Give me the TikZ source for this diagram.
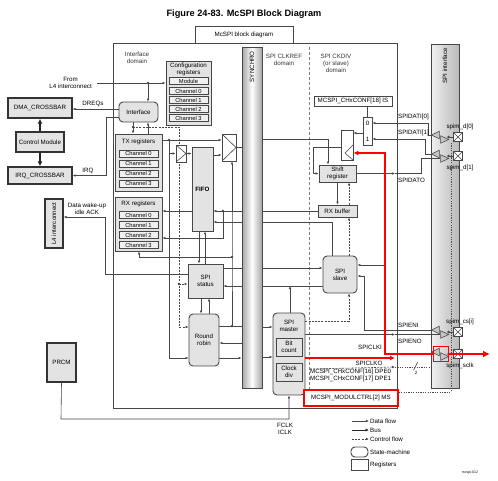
\documentclass[tikz,border=0pt]{standalone}
\usepackage{fontspec}
\setmainfont{Liberation Sans}
\usetikzlibrary{arrows.meta,shapes.geometric}

\definecolor{linea}{HTML}{474747}
\definecolor{relleno}{HTML}{E3E3E3}
\definecolor{rojo}{HTML}{FF0000}

\pgfdeclarelayer{fondo}
\pgfsetlayers{fondo,main}

\begin{document}
\begin{tikzpicture}[
    x=1pt,
    y=-1pt,
    every node/.style={
        font=\fontsize{6.2}{7}\selectfont,
        align=center,
        inner sep=1pt
    },
    titulo/.style={
        font=\fontsize{9.2}{11}\selectfont\bfseries
    },
    block/.style={
        draw=linea,
        fill=relleno,
        line width=0.9pt,
        inner sep=0pt
    },
    fsm/.style={
        block,
        rounded corners=4pt
    },
    chan/.style={
        block,
        fill=gray!12,
        line width=0.9pt,
        minimum width=39,
        minimum height=7,
        font=\fontsize{5.8}{6}\selectfont
    },
    ext/.style={
        block,
        draw=black!80,
        line width=1.4pt
    },
    regplain/.style={
        draw=linea,
        fill=white,
        line width=0.8pt,
        inner sep=0pt
    },
    muxbox/.style={
        regplain,
        path picture={
            \draw[linea, line width=0.6pt]
                (path picture bounding box.north west)
             -- (path picture bounding box.east)
             -- (path picture bounding box.south west);
        }
    },
    clkreg/.style={
        regplain,
        path picture={
            \draw[linea, line width=0.6pt]
                ([yshift=15pt]path picture bounding box.south east)
             -- ([xshift=4pt,yshift=7pt]path picture bounding box.south west)
             -- (path picture bounding box.south east);
        }
    },
    pad/.style={
        draw=linea,
        fill=white,
        line width=0.7pt,
        minimum size=9pt,
        inner sep=0pt,
        path picture={
            \draw[linea, line width=0.5pt]
                (path picture bounding box.north west) -- (path picture bounding box.south east)
                (path picture bounding box.south west) -- (path picture bounding box.north east);
        }
    },
    bufizq/.style={
        isosceles triangle,
        isosceles triangle stretches,
        shape border rotate=180,
        draw=linea,
        fill=gray!45,
        line width=0.6pt,
        inner sep=0pt,
        minimum width=7.5pt,
        minimum height=8pt
    },
    bufder/.style={
        bufizq,
        shape border rotate=0
    },
    cilindro/.style={
        draw=linea,
        line width=0.8pt,
        left color=gray!70,
        right color=gray!70,
        middle color=white,
        inner sep=0pt
    },
    columna/.style={
        draw=linea,
        line width=0.8pt,
        left color=gray!12,
        right color=gray!55,
        inner sep=0pt
    },
    vtext/.style={
        rotate=90,
        anchor=east
    },
    dom/.style={
        text=black!80
    },
    divisor/.style={
        draw=linea!70,
        line width=0.6pt,
        dash pattern=on 3pt off 2pt
    },
    junc/.style={
        circle,
        fill=linea,
        inner sep=0pt,
        minimum size=2.6pt
    },
    wire/.style={
        draw=linea,
        line width=0.6pt
    },
    flow/.style={
        wire,
        -{Latex[length=3pt,width=2.6pt]}
    },
    ctrl/.style={
        wire,
        dash pattern=on 2pt off 1.2pt,
        -{Latex[length=3pt,width=2.6pt]}
    },
    ctrlline/.style={
        wire,
        dash pattern=on 1.2pt off 1.2pt
    },
    bus/.style={
        draw=black!85,
        line width=1pt,
        -{Latex[length=3.5pt,width=3.5pt]}
    },
    gordo/.style={
        draw=black!85,
        line width=1.6pt,
        -{Latex[length=5pt,width=5pt]}
    },
    redflow/.style={
        draw=rojo,
        line width=1.6pt,
        -{Latex[length=5pt,width=5pt]}
    },
    redbus/.style={
        draw=rojo,
        line width=2pt,
        -{Latex[length=7pt,width=7pt]}
    }
]
\useasboundingbox (0,0) rectangle (498,480);

% =====================
% Titulo y marco
% =====================
\node[titulo] (titulo) at (244,14) {Figure 24-83. McSPI Block Diagram};

\begin{pgfonlayer}{fondo}
\node[draw=linea, line width=1pt, minimum width=284, minimum height=365, inner sep=0pt] (marco) at (255,225.5) {};
\node[columna, minimum width=28, minimum height=344] (spiif) at (445,216) {};
\draw[divisor] (309,47) -- (309,390);
\end{pgfonlayer}
\node[regplain, line width=1pt, minimum width=98, minimum height=17] (pest) at (244,34.5) {McSPI block diagram};
\node[vtext] (spiift) at (445,47) {SPI interface};

\node[cilindro, minimum width=20, minimum height=341] (sync) at (252,217.5) {};
\node[vtext] (synct) at (252,50) {SYNCHRO};

\node[dom] (dif)  at (137,58) {Interface\\domain};
\node[dom] (dref) at (284,60) {SPI CLKREF\\domain};
\node[dom] (ddiv) at (336,63) {SPI CKDIV\\(or slave)\\domain};

% =====================
% Bloques externos
% =====================
\node[ext, minimum width=64, minimum height=20] (dma)   at (40,108)   {DMA\_CROSSBAR};
\node[ext, minimum width=48, minimum height=20] (ctrlm) at (40,142)   {Control Module};
\node[ext, minimum width=64, minimum height=17] (irq)   at (40,175.5) {IRQ\_CROSSBAR};
\node[ext, minimum width=18, minimum height=49] (l4)    at (54,223.5) {};
\node[rotate=90] (l4t) at (l4) {L4 interconnect};
\node[ext, minimum width=29, minimum height=39] (prcm)  at (61.5,362.5) {PRCM};

\node[anchor=east] (froml4) at (93,83) {From\\L4 interconnect};
\node (dreqt) at (93,104) {DREQs};
\node (irqt)  at (88,171) {IRQ};
\node (wkt)   at (87,209) {Data wake-up\\idle ACK};
\node (fclkt) at (285,429) {FCLK\\ICLK};

% =====================
% Dominio de interfaz
% =====================
\node[fsm, minimum width=39, minimum height=20] (iface) at (138.5,112) {Interface};

\node[block, minimum width=45, minimum height=64] (cfg) at (188.5,93) {};
\node (cfgt) at (188.5,69) {Configuration\\registers};
\node[chan] (cmod) at (188.5,81) {Module};
\foreach \i/\y in {0/91,1/100,2/109,3/118}
    \node[chan] (cch\i) at (188.5,\y) {Channel \i};

\node[block, minimum width=47, minimum height=57] (tx) at (138.5,162.5) {};
\node (txt) at (138.5,142) {TX registers};
\foreach \i/\y in {0/153.5,1/163.5,2/173.5,3/183.5}
    \node[chan] (tch\i) at (138.5,\y) {Channel \i};

\node[block, minimum width=47, minimum height=54] (rx) at (138.5,224) {};
\node (rxt) at (138.5,204) {RX registers};
\foreach \i/\y in {0/215,1/225,2/235,3/245}
    \node[chan] (rch\i) at (138.5,\y) {Channel \i};

\node[muxbox, minimum width=10, minimum height=17] (smux) at (181,153.5) {};
\node[block, minimum width=21, minimum height=84, font=\fontsize{6.2}{7}\selectfont\bfseries] (fifo) at (202.5,189) {FIFO};
\node[muxbox, minimum width=14, minimum height=27] (bmux) at (229,147.5) {};

\node[block, minimum width=35, minimum height=34] (status) at (205.5,281) {SPI\\status};
\node[fsm, minimum width=30, minimum height=52] (rr) at (204,340) {Round\\robin};

% =====================
% Dominios SPI
% =====================
\node[regplain, minimum width=78, minimum height=10] (isreg) at (353,101) {MCSPI\_CHxCONF[18] IS};
\node[regplain, minimum width=9, minimum height=28] (dmux) at (367.5,131) {};
\node (dm0) at (367.5,123) {0};
\node (dm1) at (367.5,139) {1};
\node[clkreg, minimum width=12, minimum height=30] (ckreg) at (347,145) {};
\node[block, minimum width=37, minimum height=17] (shreg) at (337.5,173.5) {Shift\\register};
\node[block, minimum width=39, minimum height=12] (rxbuf) at (337.5,211) {RX buffer};
\node[fsm, minimum width=34, minimum height=37] (slave) at (340,274.5) {SPI\\slave};

\node[fsm, minimum width=32, minimum height=82] (master) at (289,354) {};
\node (mastt) at (289,326) {SPI\\master};
\node[block, minimum width=26, minimum height=18] (bitc)  at (289,347) {Bit\\count};
\node[block, minimum width=26, minimum height=18] (ckdiv) at (289,372) {Clock\\div};

\node[anchor=north west, align=left, inner sep=0pt] (dpe) at (310,369) {MCSPI\_CHxCONF[16] DPE0\\MCSPI\_CHxCONF[17] DPE1};
\node[regplain, draw=rojo, line width=1.5pt, minimum width=94, minimum height=16] (msreg) at (351,398) {MCSPI\_MODULCTRL[2] MS};

\node[anchor=west] (dati0) at (397,117) {SPIDATI[0]};
\node[anchor=west] (dati1) at (397,133) {SPIDATI[1]};
\node[anchor=west] (datot) at (397,180) {SPIDATO};
\node[anchor=west] (enit)  at (397,325) {SPIENI};
\node[anchor=west] (enot)  at (397,341) {SPIENO};
\node (ckit) at (370,347) {SPICLKI};
\node (ckot) at (369,363) {SPICLKO};
\node[font=\fontsize{4.5}{5}\selectfont] (dos) at (416,373) {2};

% =====================
% Pines SPI
% =====================
\foreach \n/\y in {d0/137,d1/156,cs/332,ck/354}{
    \node[bufizq] (bi\n) at (437,\y-2) {};
    \node[bufder] (bo\n) at (443,\y+2.5) {};
    \node[pad] (pad\n) at (458,\y) {};
    \node[junc] (pj\n) at (448.5,\y) {};
    \draw[wire] (pj\n.center) -- (pad\n.west);
}
\node (pd0t) at (460,127) {spim\_d[0]};
\node (pd1t) at (460,168) {spim\_d[1]};
\node (pcst) at (460,322) {spim\_cs[i]};
\node (pckt) at (460,366) {spim\_sclk};
\node[draw=rojo, line width=1.2pt, minimum width=15, minimum height=15, inner sep=0pt] (ckbox) at (441,354) {};

% =====================
% Leyenda
% =====================
\node[anchor=west] (lgdat) at (369,421) {Data flow};
\node[anchor=west] (lgbus) at (369,430) {Bus};
\node[anchor=west] (lgctl) at (369,439) {Control flow};
\node[fsm, fill=white, minimum width=17, minimum height=10] (lgsm) at (359.5,452) {};
\node[anchor=west] (lgsmt) at (369,452) {State-machine};
\node[block, fill=white, minimum width=17, minimum height=11] (lgreg) at (359.5,464.5) {};
\node[anchor=west] (lgregt) at (369,464.5) {Registers};
\node[font=\fontsize{3.5}{4}\selectfont] (codigo) at (470,473) {mcspi-012};
\coordinate (lg1) at (352,421);
\coordinate (lg2) at (352,430);
\coordinate (lg3) at (352,439);
\draw[flow] (lg1) -- (lgdat.west);
\draw[bus]  (lg2) -- (lgbus.west);
\draw[ctrl] (lg3) -- (lgctl.west);

% =====================
% Conexiones
% =====================
\coordinate (l4in) at (97,83);
\node[junc] (jl4) at (148,83) {};
\coordinate (ydreq) at (100,109);
\coordinate (jirq) at (106,117);
\coordinate (jwk) at (105,274);
\coordinate (jwk2) at (105,217);
\coordinate (jpr) at (61,419);
\node[junc] (jtx) at (169,140) {};
\coordinate (txv) at (169,358);
\node[junc] (cd1) at (133,127) {};
\coordinate (cd2) at (179,127);
\coordinate (cd3) at (179,327);
\node[junc] (cd4) at (179,284) {};
\coordinate (it2) at (148,128);
\coordinate (fo) at (217,155);
\node[junc] (rxj) at (223,211) {};
\coordinate (rxj2) at (223,238);
\coordinate (slj) at (332,222);
\coordinate (ssj) at (300,268);
\coordinate (msj) at (290,286);
\coordinate (fs1) at (199,240);
\coordinate (fs2) at (205,240);
\coordinate (rs1) at (201,305);
\coordinate (rs2) at (209,305);
\coordinate (rb1) at (139,257);
\node[junc] (rb2) at (232,257) {};
\node[junc] (rr1) at (232,326) {};
\coordinate (rrin) at (242,343);
\coordinate (rrout) at (242,358);
\coordinate (mi1) at (262,327);
\coordinate (mi2) at (262,357);
\coordinate (sr1) at (328,139);
\coordinate (sh1) at (313,147);
\coordinate (ckin) at (358,133);
\coordinate (ctlx) at (349,321);
\coordinate (datoa) at (395,173.5);
\coordinate (datob) at (421,173.5);
\coordinate (di0) at (428,123);
\coordinate (di1) at (425,139);
\coordinate (eni1) at (364,330);
\coordinate (eni2) at (364,276);
\coordinate (enoa) at (395,334.5);
\coordinate (ckt) at (385,153);
\coordinate (cks) at (385,265);
\coordinate (ckoa) at (395,358);
\coordinate (ckout) at (490,354);
\coordinate (dpb) at (395,367);
\coordinate (dpc) at (431,367);
\coordinate (msa) at (451,392);
\coordinate (msb) at (451,143);

\begin{pgfonlayer}{fondo}
% bloques externos
\draw[flow] (l4in) -- (cfg.west |- l4in);
\draw[flow] (jl4.center) -- (iface.north -| jl4);
\draw[flow] (iface.west |- ydreq) -- (dma.east |- ydreq);
\draw[gordo] (ctrlm.north) -- (dma.south);
\draw[gordo] (ctrlm.south) -- (irq.north);
\draw[flow] (iface.west |- jirq) -- (jirq) |- (irq.east);
\draw[flow] (status.west |- jwk) -- (jwk) -- (jwk2) -- (l4.east |- jwk2);
\draw[flow] (prcm.south) -- (jpr) -| (master.south);

% interfaz y FIFO
\draw[flow] (iface.south -| cd1) -- (tx.north -| cd1);
\draw[flow] (tx.north -| it2) -- (iface.south -| it2);
\draw[ctrl] (cd1.center) -- (cd2) -- (cd3) -- (rr.west |- cd3);
\draw[ctrl] (cd4.center) -- (status.west |- cd4);
\draw[flow] (tx.east |- jtx) -- (bmux.west |- jtx);
\draw[flow] (jtx.center) |- (smux.west);
\draw[flow] (jtx.center) -- (txv) -- (rr.west |- txv);
\draw[flow] (smux.east) -- (fifo.west |- smux.east);
\draw[flow] (fifo.east |- fo) -- (bmux.west |- fo);
\draw[wire] (bmux.east) -- (sync.west |- bmux.east);
\draw[flow] (rxbuf.west) -- (fifo.east |- rxbuf.west);
\draw[flow] (fifo.west |- rxbuf.west) -- (rx.east |- rxbuf.west);
\draw[flow] (rxj.center) -- (rxj2) -- (rx.east |- rxj2);
\draw[flow] (slave.north -| slj) -- (slj) -- (fifo.east |- slj);
\draw[flow] (fifo.south -| fs1) -- (status.north -| fs1);
\draw[flow] (status.north -| fs2) -- (fifo.south -| fs2);
\draw[flow] (status.south -| rs1) -- (rr.north -| rs1);
\draw[flow] (rr.north -| rs2) -- (status.south -| rs2);
\draw[flow] (rb2.center) -- (rb1) -- (rx.south -| rb1);
\draw[flow] (rr.east |- rr1) -- (rr1.center) -- (rb2.center) -- (bmux.south -| rb2);
\draw[wire] (rr1.center) -- (sync.west |- rr1);
\draw[flow] (sync.west |- rrin) -- (rr.east |- rrin);
\draw[flow] (rr.east |- rrout) -- (sync.west |- rrout);

% dominio SPI
\draw[flow] (status.east |- ssj) -- (slave.west |- ssj);
\draw[flow] (slave.west |- msj) -- (status.east |- msj);
\draw[flow] (master.north -| msj) -- (msj);
\draw[flow] (sync.east |- mi1) -- (master.west |- mi1);
\draw[flow] (sync.east |- mi2) -- (master.west |- mi2);
\draw[flow] (sync.east |- sr1) -- (sr1) -- (shreg.north -| sr1);
\draw[flow] (ckreg.west |- sh1) -- (sh1) |- (shreg.west);
\draw[wire] (isreg.south -| dmux) -- (dmux.north);
\draw[flow] (dmux.west |- ckin) -- (ckreg.east |- ckin);
\draw[flow] (shreg.south) -- (rxbuf.north);
\draw[ctrl] (rxbuf.north -| ctlx) -- (shreg.south -| ctlx);
\draw[ctrl] (slave.north -| ctlx) -- (rxbuf.south -| ctlx);
\draw[ctrl] (master.east |- ctlx) -- (ctlx) -- (slave.south -| ctlx);
\draw[flow] (shreg.east) -- (datoa);
\draw[wire] (datoa) -- (datob) |- (bod1.west);
\draw[flow] (bid0.west) -- (bid0.west -| di0) -- (di0) -- (dmux.east |- di0);
\draw[flow] (bid1.west) -- (bid1.west -| di1) -- (di1) -- (dmux.east |- di1);
\draw[flow] (bics.west) -- (bics.west -| eni1) -- (eni2) -- (slave.east |- eni2);
\draw[flow] (master.east |- enoa) -- (enoa);
\draw[wire] (enoa) -- (bocs.west);
\draw[flow] (cks) -- (slave.east |- cks);
\draw[ctrl] (dpe.north west) -- (dpb);
\draw[ctrlline] (dpb) -- (dpc);
\draw[wire] (dos.north west) -- ++(4,-8);
\draw[ctrlline] (msreg.east |- msa) -- (msa) -- (msb);
\end{pgfonlayer}

% =====================
% Reloj SPI (rojo)
% =====================
\draw[redflow] (ckbox.west) -- (ckbox.west -| ckt) -- (ckt) -- (ckreg.east |- ckt);
\draw[redflow] (master.east |- ckoa) -- (ckoa);
\draw[redbus] (ckbox.east) -- (ckout);

\end{tikzpicture}
\end{document}
